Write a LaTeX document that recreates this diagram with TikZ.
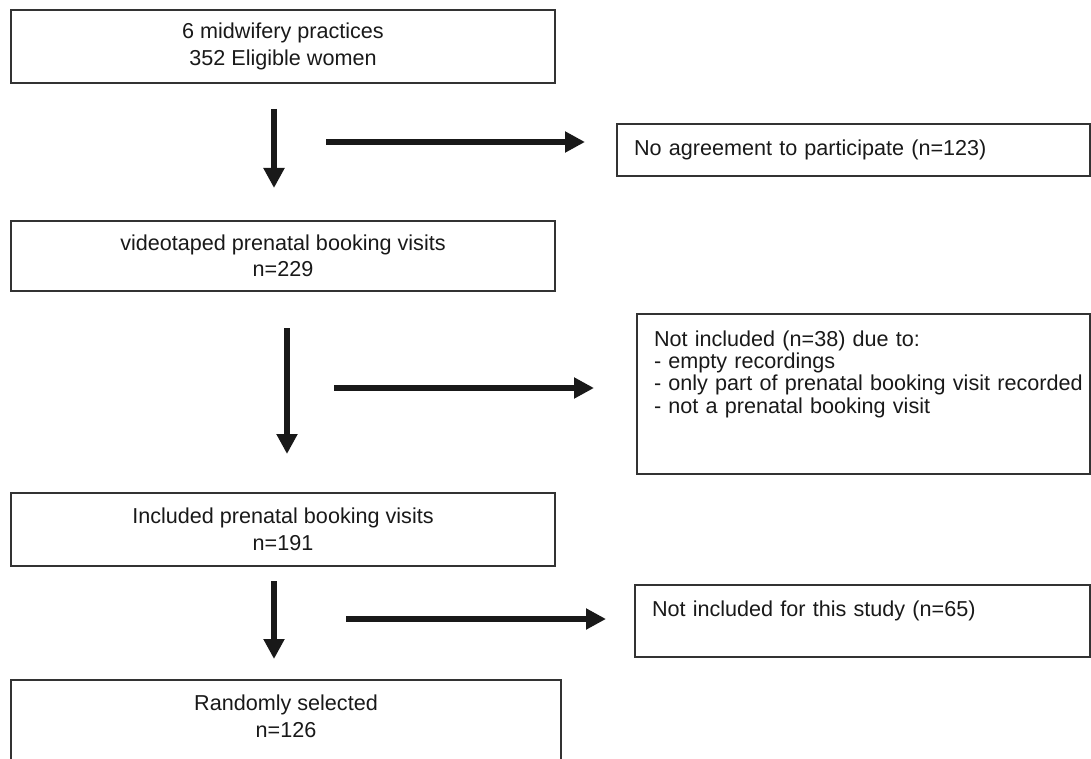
\documentclass[tikz,border=0pt]{standalone}
\usepackage{fontspec}
\setmainfont{Liberation Sans}
\usetikzlibrary{arrows.meta}

\begin{document}
\begin{tikzpicture}[x=0.5pt,y=-0.5pt,>={Triangle[length=10pt,width=10pt]},
  font=\fontsize{10.8}{13.25}\selectfont,
  stage/.style={draw=black!80,line width=1pt,text=black!90,align=center,minimum width=272pt,inner ysep=3pt},
  excl/.style={draw=black!80,line width=1pt,text=black!90,align=left,anchor=north west,inner xsep=8.5pt,inner ysep=3pt},
  flow/.style={->,line width=3.2pt,black!90}]
  \useasboundingbox (0,0) rectangle (1091,759);
  % Hauptkaesten
  \node[stage,minimum height=36.5pt] (practices) at (283,46.5) {6 midwifery practices\\352 Eligible women};
  \node[stage,minimum height=35pt] (videotaped) at (283,256) {videotaped prenatal booking visits\\n=229};
  \node[stage,minimum height=36.5pt] (included) at (283,529.5) {Included prenatal booking visits\\n=191};
  \node[stage,anchor=north,minimum width=275pt,text height=25.5pt,text depth=40pt] (random) at (286,679) {Randomly selected\\n=126};
  % Ausschluesse
  \node[excl,text width=219.5pt,minimum height=26pt] (noagree) at (616,123) {No agreement to participate (n=123)};
  \node[excl,text width=209.5pt,text height=13pt,text depth=61pt,font=\fontsize{10.8}{11.2}\selectfont] (notincl) at (636,313)
    {Not included (n=38) due to:\\- empty recordings\\\mbox{- only part of prenatal booking visit recorded}\\- not a prenatal booking visit};
  \node[excl,text width=210.5pt,text height=12.75pt,text depth=17.25pt] (notstudy) at (634,584) {Not included for this study (n=65)};
  % Pfeile
  \coordinate (d1a) at (274,109); \coordinate (d1b) at (274,188);
  \coordinate (r1a) at (326,142); \coordinate (r1b) at (585,142);
  \coordinate (d2a) at (287,328); \coordinate (d2b) at (287,454);
  \coordinate (r2a) at (334,388); \coordinate (r2b) at (594,388);
  \coordinate (d3a) at (274,581); \coordinate (d3b) at (274,659);
  \coordinate (r3a) at (346,619); \coordinate (r3b) at (606,619);
  \draw[flow] (d1a) -- (d1b);
  \draw[flow] (r1a) -- (r1b);
  \draw[flow] (d2a) -- (d2b);
  \draw[flow] (r2a) -- (r2b);
  \draw[flow] (d3a) -- (d3b);
  \draw[flow] (r3a) -- (r3b);
\end{tikzpicture}
\end{document}
